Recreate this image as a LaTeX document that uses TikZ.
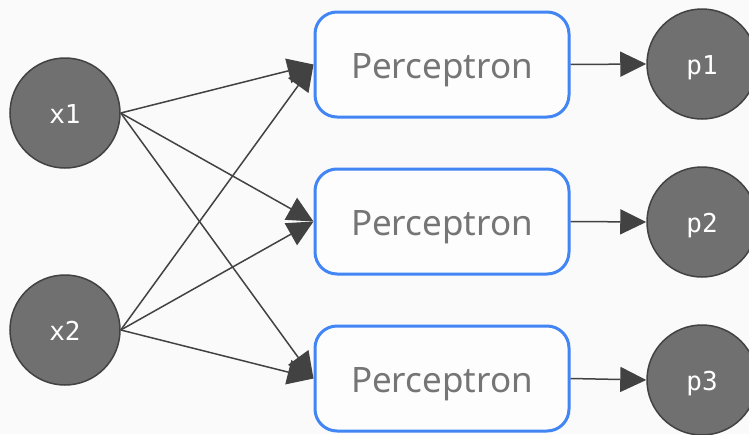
\documentclass[tikz,border=0pt]{standalone}
\usepackage{fontspec}
\setmainfont{Noto Sans}
\newfontfamily\monofnt{DejaVu Sans Mono}
\usetikzlibrary{arrows.meta}
\definecolor{bgc}{HTML}{FAFAFA}
\definecolor{nodegray}{HTML}{707070}
\definecolor{edgegray}{HTML}{424242}
\definecolor{boxblue}{HTML}{4285F4}
\definecolor{textgray}{HTML}{757575}
\tikzset{
  unit/.style={circle, minimum size=110pt, inner sep=0pt, text height=21pt, text depth=0pt, fill=nodegray, draw=edgegray, line width=1.5pt, text=white, font=\monofnt\fontsize{26}{30}\selectfont},
  percbox/.style={rectangle, rounded corners=22pt, minimum width=254pt, minimum height=105pt, inner sep=0pt, text height=27.6pt, text depth=0pt, draw=boxblue, line width=3pt, fill=white!60!bgc, text=textgray, font=\fontsize{35}{40}\selectfont},
  conn/.style={draw=edgegray, line width=1.5pt, -{Triangle[length=26pt, width=25pt]}}
}
\begin{document}
\begin{tikzpicture}[x=1pt, y=-1pt]
\fill[bgc] (0,0) rectangle (749,434);
\useasboundingbox (0,0) rectangle (749,434);
\begin{scope}
\clip (0,0) rectangle (749,434);
\node[unit] (x1) at (65,113) {x1};
\node[unit] (x2) at (65,330) {x2};
\node[percbox] (b1) at (442,64.5) {Perceptron};
\node[percbox] (b2) at (442,221.5) {Perceptron};
\node[percbox] (b3) at (442,378.5) {Perceptron};
\node[unit] (p1) at (702,64) {p1};
\node[unit] (p2) at (702,222) {p2};
\node[unit] (p3) at (702,380) {p3};
\foreach \s in {x1,x2}{
  \foreach \t in {b1,b2,b3}{
    \draw[conn] (\s.east) -- (\t.west);
  }
}
\draw[conn] (b1.east) -- (p1.west);
\draw[conn] (b2.east) -- (p2.west);
\draw[conn] (b3.east) -- (p3.west);
\end{scope}
\end{tikzpicture}
\end{document}
